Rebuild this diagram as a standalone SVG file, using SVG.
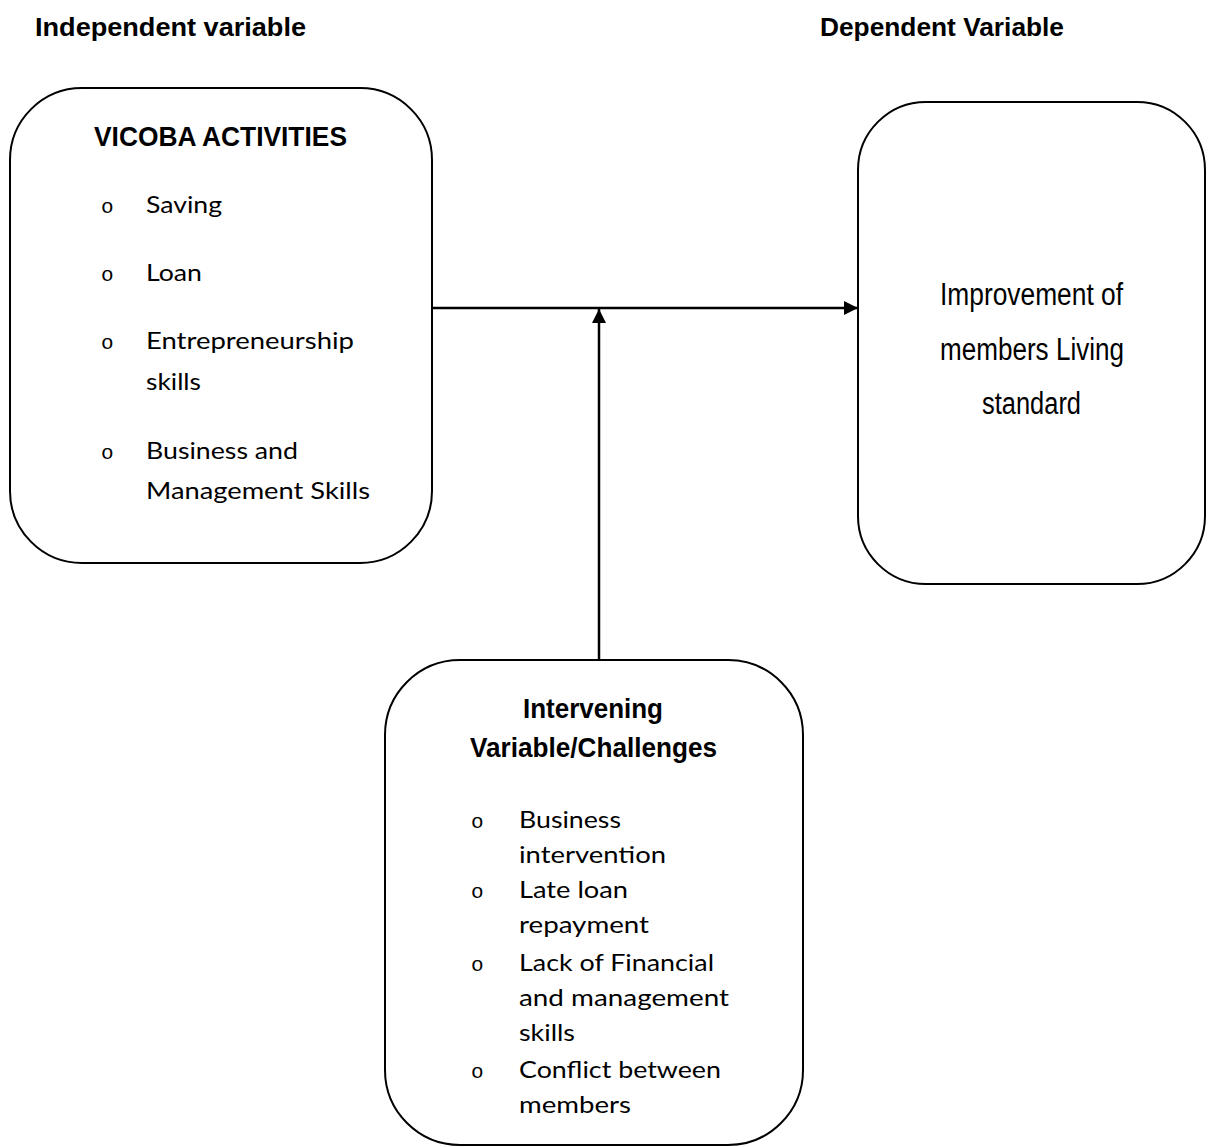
<svg xmlns="http://www.w3.org/2000/svg" width="1209" height="1147" viewBox="0 0 1209 1147">
<style>
.box{fill:#fff;stroke:#000;stroke-width:2}
.hdr{font-family:"Liberation Sans",Arial,sans-serif;font-weight:bold;font-size:25px;fill:#000}
.ttl{font-family:"Liberation Sans Narrow","Liberation Sans",Arial,sans-serif;font-weight:bold;font-size:28px;fill:#000}
.itm{font-family:Lato,"Open Sans","Liberation Sans",sans-serif;font-size:24px;fill:#000}
.bul{font-family:"Liberation Mono","Courier New",monospace;font-size:21px;fill:#000}
.dep{font-family:"Liberation Sans Narrow","Liberation Sans",Arial,sans-serif;font-size:31px;fill:#000}
.con{stroke:#000;stroke-width:2.5;fill:none}
</style>
<defs>
<marker id="arr" viewBox="0 0 14 14" refX="14" refY="7" markerWidth="14" markerHeight="14" markerUnits="userSpaceOnUse" orient="auto">
<path d="M0,0 L14,7 L0,14 Z" fill="#000"/>
</marker>
</defs>
<rect width="1209" height="1147" fill="#fff"/>
<g id="labels">
<text class="hdr" x="35" y="36" textLength="271" lengthAdjust="spacingAndGlyphs">Independent variable</text>
<text class="hdr" x="820" y="36" textLength="244" lengthAdjust="spacingAndGlyphs">Dependent Variable</text>
</g>
<g id="connectors">
<line class="con" x1="432" y1="308" x2="858" y2="308" marker-end="url(#arr)"/>
<line class="con" x1="599" y1="660" x2="599" y2="309" marker-end="url(#arr)"/>
</g>
<g id="node-vicoba">
<rect class="box" x="10" y="88" width="422" height="475" rx="72" ry="72"/>
<text class="ttl" x="94" y="146" textLength="253" lengthAdjust="spacingAndGlyphs">VICOBA ACTIVITIES</text>
<text class="bul" x="101" y="213">o</text>
<text class="itm" x="146" y="213" textLength="76" lengthAdjust="spacingAndGlyphs">Saving</text>
<text class="bul" x="101" y="281">o</text>
<text class="itm" x="146" y="281" textLength="56" lengthAdjust="spacingAndGlyphs">Loan</text>
<text class="bul" x="101" y="349">o</text>
<text class="itm" x="146" y="349" textLength="208" lengthAdjust="spacingAndGlyphs">Entrepreneurship</text>
<text class="itm" x="146" y="390" textLength="55" lengthAdjust="spacingAndGlyphs">skills</text>
<text class="bul" x="101" y="459">o</text>
<text class="itm" x="146" y="459" textLength="152" lengthAdjust="spacingAndGlyphs">Business and</text>
<text class="itm" x="146" y="499" textLength="224" lengthAdjust="spacingAndGlyphs">Management Skills</text>
</g>
<g id="node-living">
<rect class="box" x="858" y="102" width="347" height="482" rx="68" ry="68"/>
<text class="dep" x="940" y="305" textLength="183" lengthAdjust="spacingAndGlyphs">Improvement of</text>
<text class="dep" x="940" y="360" textLength="184" lengthAdjust="spacingAndGlyphs">members Living</text>
<text class="dep" x="982" y="414" textLength="99" lengthAdjust="spacingAndGlyphs">standard</text>
</g>
<g id="node-intervening">
<rect class="box" x="385" y="660" width="418" height="485" rx="75" ry="75"/>
<text class="ttl" x="523" y="718" textLength="140" lengthAdjust="spacingAndGlyphs">Intervening</text>
<text class="ttl" x="470" y="757" textLength="247" lengthAdjust="spacingAndGlyphs">Variable/Challenges</text>
<text class="bul" x="471" y="828">o</text>
<text class="itm" x="519" y="828" textLength="102" lengthAdjust="spacingAndGlyphs">Business</text>
<text class="itm" x="519" y="863" textLength="147" lengthAdjust="spacingAndGlyphs">intervention</text>
<text class="bul" x="471" y="898">o</text>
<text class="itm" x="519" y="898" textLength="109" lengthAdjust="spacingAndGlyphs">Late loan</text>
<text class="itm" x="519" y="933" textLength="130" lengthAdjust="spacingAndGlyphs">repayment</text>
<text class="bul" x="471" y="971">o</text>
<text class="itm" x="519" y="971" textLength="195" lengthAdjust="spacingAndGlyphs">Lack of Financial</text>
<text class="itm" x="519" y="1006" textLength="210" lengthAdjust="spacingAndGlyphs">and management</text>
<text class="itm" x="519" y="1041" textLength="56" lengthAdjust="spacingAndGlyphs">skills</text>
<text class="bul" x="471" y="1078">o</text>
<text class="itm" x="519" y="1078" textLength="202" lengthAdjust="spacingAndGlyphs">Conflict between</text>
<text class="itm" x="519" y="1113" textLength="112" lengthAdjust="spacingAndGlyphs">members</text>
</g>
</svg>
